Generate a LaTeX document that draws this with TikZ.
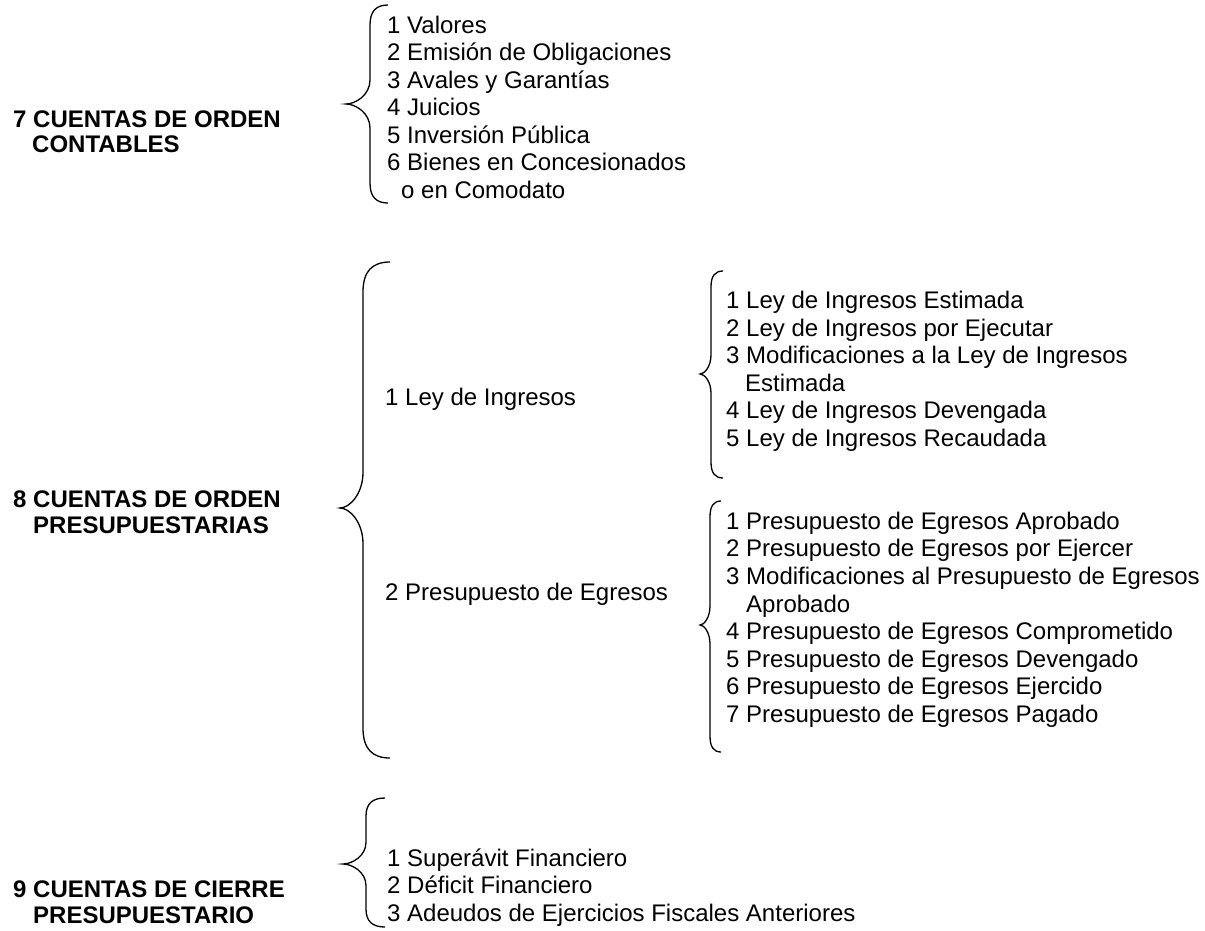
\documentclass[tikz,border=0pt]{standalone}
\usepackage{fontspec}
\setmainfont{Liberation Sans}
\newcommand{\mybrace}[7]{% xe xv xt yt ym yb hook
  \draw[bracestyle] (#1,#4) .. controls ({#2+0.35*(#1-#2)},#4) and (#2,{#4+0.3*#7}) .. (#2,{#4+#7})
    -- (#2,{#5-1.2*#7}) .. controls (#2,{#5-0.45*#7}) and ({#3+0.4*(#2-#3)},#5) .. (#3,#5)
    .. controls ({#3+0.4*(#2-#3)},#5) and (#2,{#5+0.45*#7}) .. (#2,{#5+1.2*#7})
    -- (#2,{#6-#7}) .. controls (#2,{#6-0.3*#7}) and ({#2+0.35*(#1-#2)},#6) .. (#1,#6);}
\begin{document}
\begin{tikzpicture}[x=1pt,y=-1pt,
  bracestyle/.style={line width=1.3pt,black},
  item/.style={anchor=base west,inner sep=0pt,font=\fontsize{24}{27.6}\selectfont},
  head/.style={anchor=base west,inner sep=0pt,font=\fontsize{24}{27.6}\selectfont\bfseries}]
\useasboundingbox[fill=white] (0,0) rectangle (1205,930);

% ---- 7 ----
\node[head] (h7a) at (13,127) {7 CUENTAS DE ORDEN};
\node[head] (h7b) at (32,152) {CONTABLES};
\mybrace{388}{370}{346}{5}{104}{203}{20}
\node[item] (i71) at (387,33) {1 Valores};
\node[item] (i72) at (387,60.5) {2 Emisión de Obligaciones};
\node[item] (i73) at (387,88) {3 Avales y Garantías};
\node[item] (i74) at (387,115.5) {4 Juicios};
\node[item] (i75) at (387,143) {5 Inversión Pública};
\node[item] (i76) at (387,170.5) {6 Bienes en Concesionados};
\node[item] (i76b) at (401,198) {o en Comodato};

% ---- 8 ----
\node[head] (h8a) at (13,507) {8 CUENTAS DE ORDEN};
\node[head] (h8b) at (33,533) {PRESUPUESTARIAS};
\mybrace{390}{363}{340}{262}{508}{758}{30}
\node[item] (s81) at (385,405) {1 Ley de Ingresos};
\node[item] (s82) at (385,600) {2 Presupuesto de Egresos};

\mybrace{723}{711}{700}{271}{374}{478}{16}
\node[item] (a1) at (726,308) {1 Ley de Ingresos Estimada};
\node[item] (a2) at (726,336) {2 Ley de Ingresos por Ejecutar};
\node[item] (a3) at (726,363) {3 Modificaciones a la Ley de Ingresos};
\node[item] (a3b) at (745,391) {Estimada};
\node[item] (a4) at (726,418) {4 Ley de Ingresos Devengada};
\node[item] (a5) at (726,446) {5 Ley de Ingresos Recaudada};

\mybrace{721}{710}{700}{501}{625}{752}{16}
\node[item] (b1) at (726,529) {1 Presupuesto de Egresos Aprobado};
\node[item] (b2) at (726,556.6) {2 Presupuesto de Egresos por Ejercer};
\node[item] (b3) at (726,584) {3 Modificaciones al Presupuesto de Egresos};
\node[item] (b3b) at (746,612) {Aprobado};
\node[item] (b4) at (726,639) {4 Presupuesto de Egresos Comprometido};
\node[item] (b5) at (726,667) {5 Presupuesto de Egresos Devengado};
\node[item] (b6) at (726,694) {6 Presupuesto de Egresos Ejercido};
\node[item] (b7) at (726,722) {7 Presupuesto de Egresos Pagado};

% ---- 9 ----
\node[head] (h9a) at (13,897) {9 CUENTAS DE CIERRE};
\node[head] (h9b) at (33,923) {PRESUPUESTARIO};
\mybrace{385}{366}{343}{798}{864}{927}{18}
\node[item] (c1) at (387,866) {1 Superávit Financiero};
\node[item] (c2) at (387,893.5) {2 Déficit Financiero};
\node[item] (c3) at (387,921) {3 Adeudos de Ejercicios Fiscales Anteriores};
\end{tikzpicture}
\end{document}
